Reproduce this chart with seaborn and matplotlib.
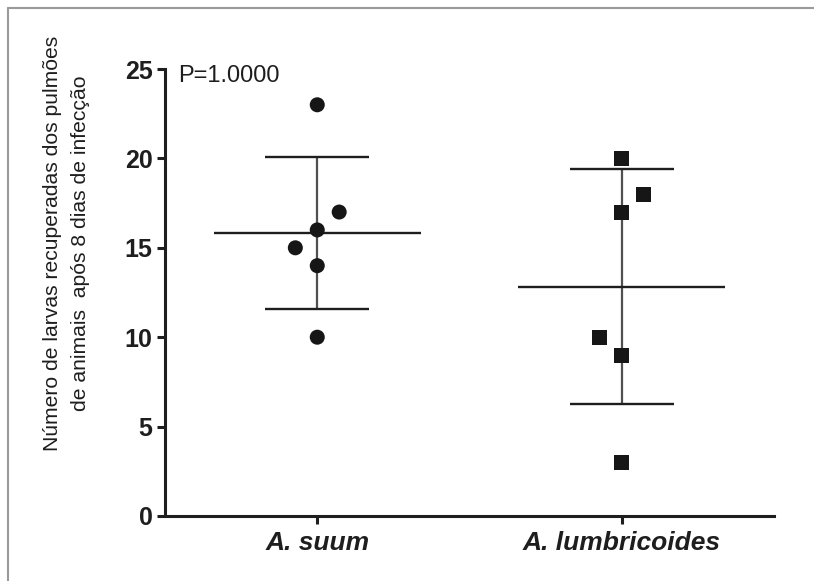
import numpy as np
import pandas as pd
import matplotlib
matplotlib.use("Agg")
import matplotlib.pyplot as plt
import seaborn as sns
from matplotlib.lines import Line2D

# Larvae recovered from the lungs, 8 days post infection
groups = ["A. suum", "A. lumbricoides"]
suum_counts = [23, 17, 16, 15, 14, 10]
lumbricoides_counts = [20, 18, 17, 10, 9, 3]
group_markers = ["o", "s"]
y_ticks = [0, 5, 10, 15, 20, 25]
p_label = "P=1.0000"
y_label = "Número de larvas recuperadas dos pulmões\nde animais  após 8 dias de infecção"


def spread_offsets(values, gap=1.5, step=0.072):
    """Nudge points sideways when they crowd a centred point (left, then right)."""
    values = np.asarray(values, dtype=float)
    offsets = np.zeros(len(values))
    placed = []
    side = -1
    for i in np.argsort(values, kind="stable"):
        v = values[i]
        if any(abs(v - pv) < gap and po == 0 for pv, po in placed):
            off = side * step
            side = -side
        else:
            off = 0.0
        offsets[i] = off
        placed.append((v, off))
    return offsets


sns.set_style("ticks")
plt.rcParams["font.family"] = ["Liberation Sans", "DejaVu Sans"]
ink = "#1e1e1e"

all_counts = [suum_counts, lumbricoides_counts]
frames = []
for gi, (name, counts) in enumerate(zip(groups, all_counts)):
    frames.append(pd.DataFrame({
        "group": name,
        "count": counts,
        "xpos": gi + spread_offsets(counts),
    }))
df = pd.concat(frames, ignore_index=True)

fig = plt.figure(figsize=(8.14, 5.81), dpi=100)
ax = fig.add_axes([0.2027, 0.1119, 0.7482, 0.7693])

# mean and SD bars
for gi, counts in enumerate(all_counts):
    m = np.mean(counts)
    sd = np.std(counts, ddof=1)
    ax.vlines(gi, m - sd, m + sd, color="#505050", lw=1.6, zorder=1)
    ax.hlines(m, gi - 0.34, gi + 0.34, color=ink, lw=1.7, zorder=1)
    ax.hlines([m - sd, m + sd], gi - 0.17, gi + 0.17, color=ink, lw=1.7, zorder=1)

sns.scatterplot(data=df, x="xpos", y="count", style="group",
                markers=dict(zip(groups, group_markers)),
                color="#161616", s=117, linewidth=0, legend=False,
                zorder=3, ax=ax)

ax.set_xlim(-0.5, 1.5)
ax.set_ylim(0, 25)
ax.set_xticks(range(len(groups)))
ax.set_xticklabels(groups, fontsize=19, fontweight="bold", fontstyle="italic", color=ink)
ax.set_yticks(y_ticks)
ax.set_yticklabels([str(t) for t in y_ticks], fontsize=18, fontweight="bold", color=ink)
ax.set_xlabel("")
ax.set_ylabel("")

for side in ("top", "right"):
    ax.spines[side].set_visible(False)
for side in ("left", "bottom"):
    ax.spines[side].set_linewidth(2.2)
    ax.spines[side].set_color(ink)
ax.tick_params(axis="both", direction="out", length=6, width=2.2, color=ink)
ax.tick_params(axis="y", pad=3)
ax.tick_params(axis="x", pad=5)

ax.text(-0.457, 24.6, p_label, fontsize=17, ha="left", va="center", color=ink)

fig.text(67 / 814, 1 - 243 / 581, y_label, rotation=90, fontsize=15.2,
         ha="center", va="center", multialignment="center", color=ink,
         linespacing=1.6)

# frame around the figure
fig.add_artist(Line2D([8 / 814, 8 / 814], [0, 1 - 8 / 581], transform=fig.transFigure,
                      color="#9a9a9a", lw=1.5))
fig.add_artist(Line2D([8 / 814, 1], [1 - 8 / 581, 1 - 8 / 581], transform=fig.transFigure,
                      color="#9a9a9a", lw=1.5))

fig.savefig("out.png", dpi=100, facecolor="white")
